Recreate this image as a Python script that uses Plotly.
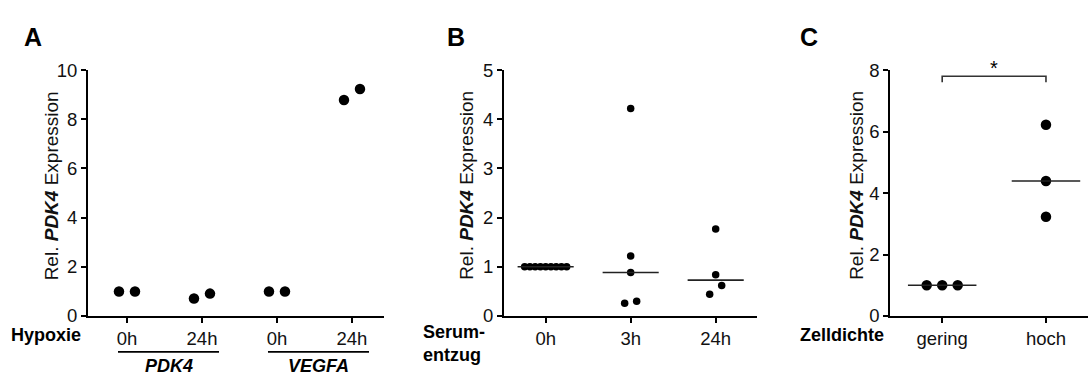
import numpy as np
import plotly.graph_objects as go

# ---------------- data ----------------
# Panel A: hypoxia time course, two replicates per condition
a_labels = ["0h", "24h", "0h", "24h"]
a_pdk4_0h = [1.0, 1.0]
a_pdk4_24h = [0.71, 0.91]
a_vegfa_0h = [1.0, 1.0]
a_vegfa_24h = [8.78, 9.23]
a_groups = ["PDK4", "VEGFA"]

# Panel B: serum starvation
b_labels = ["0h", "3h", "24h"]
b_0h = [1.0, 1.0, 1.0, 1.0, 1.0, 1.0, 1.0, 1.0, 1.0]
b_3h = [4.22, 1.22, 0.885, 0.26, 0.30]
b_24h = [1.77, 0.84, 0.62, 0.44]

# Panel C: cell density
c_labels = ["gering", "hoch"]
c_gering = [1.0, 1.0, 1.0]
c_hoch = [6.22, 4.39, 3.23]

# ---------------- layout geometry (pixels) ----------------
W, H = 1088, 383
Y0_PX, YTOP_PX = 322.7, 62.5          # pixel rows of y=0 and y=max
FONT = "Liberation Sans, Arial, sans-serif"


def px_x(p):
    return p / W


def px_y(p):
    return 1 - p / H


panels = {
    # key: x-domain px, x-range, y-max, y-ticks, dot diameter, swarm step, max swarm width
    "A": dict(dom=(88, 384), xr=(-0.52, 3.427), ymax=10, yt=[0, 2, 4, 6, 8, 10],
              d=10.5, step=16, span=40),
    "B": dict(dom=(504, 757), xr=(-0.49, 2.486), ymax=5, yt=[0, 1, 2, 3, 4, 5],
              d=7.5, step=12, span=42),
    "C": dict(dom=(890.3, 1088), xr=(-0.50, 1.405), ymax=8, yt=[0, 2, 4, 6, 8],
              d=10.5, step=15.5, span=42),
}


def swarm(vals, key):
    """Horizontal offsets (category units) so that close values sit side by side."""
    p = panels[key]
    ypx = (Y0_PX - YTOP_PX) / p["ymax"]
    xpx = (p["dom"][1] - p["dom"][0]) / (p["xr"][1] - p["xr"][0])
    vals = np.asarray(vals, float)
    order = np.argsort(vals, kind="stable")
    clusters, cur = [], [order[0]]
    for i in order[1:]:
        if (vals[i] - vals[cur[-1]]) * ypx <= 1.4 * p["d"]:
            cur.append(i)
        else:
            clusters.append(cur)
            cur = [i]
    clusters.append(cur)
    off = np.zeros(len(vals))
    for cl in clusters:
        n = len(cl)
        if n > 1:
            s = min(p["step"], p["span"] / (n - 1))
            for k, i in enumerate(cl):
                off[i] = (k - (n - 1) / 2) * s / xpx
    return off


fig = go.Figure()

axis_common = dict(showline=True, linewidth=2, linecolor="black", ticks="outside",
                   ticklen=5, tickwidth=2, tickcolor="black", showgrid=False,
                   zeroline=False, tickfont=dict(family=FONT, size=18.5, color="#111"),
                   fixedrange=True)

ydom = [px_y(Y0_PX), px_y(YTOP_PX)]
axis_ids = {"A": ("x", "y", ""), "B": ("x2", "y2", "2"), "C": ("x3", "y3", "3")}
tick_text = {"A": a_labels, "B": b_labels, "C": c_labels}

for key, (xa, ya, sfx) in axis_ids.items():
    p = panels[key]
    fig.layout["xaxis" + sfx] = dict(axis_common, domain=[px_x(p["dom"][0]), px_x(p["dom"][1])],
                                     range=list(p["xr"]), anchor=ya,
                                     tickmode="array", tickvals=list(range(len(tick_text[key]))),
                                     ticktext=tick_text[key])
    fig.layout["yaxis" + sfx] = dict(axis_common, domain=ydom, range=[0, p["ymax"]], anchor=xa,
                                     tickmode="array", tickvals=p["yt"])


def add_points(key, idx, vals, median=False):
    xa, ya, _ = axis_ids[key]
    off = swarm(vals, key)
    fig.add_trace(go.Scatter(x=idx + off, y=vals, mode="markers", xaxis=xa, yaxis=ya,
                             marker=dict(size=panels[key]["d"], color="black", line=dict(width=0)),
                             showlegend=False, hoverinfo="y", cliponaxis=False))
    if median:
        m = float(np.median(vals))
        fig.add_trace(go.Scatter(x=[idx - 0.33, idx + 0.33], y=[m, m], mode="lines",
                                 xaxis=xa, yaxis=ya, line=dict(color="#222", width=1.6),
                                 showlegend=False, hoverinfo="skip"))


for i, v in enumerate([a_pdk4_0h, a_pdk4_24h, a_vegfa_0h, a_vegfa_24h]):
    add_points("A", i, v)
for i, v in enumerate([b_0h, b_3h, b_24h]):
    add_points("B", i, v, median=True)
for i, v in enumerate([c_gering, c_hoch]):
    add_points("C", i, v, median=True)

annotations = []
shapes = []

# panel letters
for letter, cx in [("A", 33), ("B", 456), ("C", 809)]:
    annotations.append(dict(text=f"<b>{letter}</b>", x=px_x(cx), y=px_y(27), xref="paper",
                            yref="paper", showarrow=False, xanchor="center", yanchor="middle",
                            font=dict(family=FONT, size=25, color="black")))

# y-axis titles
for cx in [51.5, 467, 857]:
    annotations.append(dict(text="Rel. <b><i>PDK4</i></b> Expression", x=px_x(cx), y=px_y(185),
                            xref="paper", yref="paper", showarrow=False, textangle=-90,
                            xanchor="center", yanchor="middle",
                            font=dict(family=FONT, size=19, color="#111")))

# row titles left of the x tick labels
annotations.append(dict(text="<b>Hypoxie</b>", x=px_x(83), y=px_y(343), xref="paper",
                        yref="paper", showarrow=False, xanchor="right", yanchor="middle",
                        font=dict(family=FONT, size=18, color="black")))
annotations.append(dict(text="<b>Serum-<br>entzug</b>", x=px_x(421), y=px_y(352), xref="paper",
                        yref="paper", showarrow=False, xanchor="left", yanchor="middle",
                        align="left", font=dict(family=FONT, size=18, color="black")))
annotations.append(dict(text="<b>Zelldichte</b>", x=px_x(886), y=px_y(343), xref="paper",
                        yref="paper", showarrow=False, xanchor="right", yanchor="middle",
                        font=dict(family=FONT, size=18, color="black")))

# gene group lines and names under panel A
for g, name in enumerate(a_groups):
    first, last = 2 * g, 2 * g + 1
    x0, x1 = first - 0.12, last + 0.227
    shapes.append(dict(type="line", xref="x", yref="paper", x0=x0, x1=x1,
                       y0=px_y(360.7), y1=px_y(360.7), line=dict(color="black", width=1.6)))
    annotations.append(dict(text=f"<b><i>{name}</i></b>", x=(x0 + x1) / 2, y=px_y(376),
                            xref="x", yref="paper", showarrow=False, xanchor="center",
                            yanchor="middle", font=dict(family=FONT, size=18, color="black")))

# significance bracket in panel C
bracket_y, bracket_drop = 7.8, 0.2
shapes.append(dict(type="path", xref="x3", yref="y3",
                   path=f"M 0,{bracket_y - bracket_drop} L 0,{bracket_y} L 1,{bracket_y} L 1,{bracket_y - bracket_drop}",
                   line=dict(color="#333", width=1.6)))
annotations.append(dict(text="*", x=0.5, y=bracket_y, xref="x3", yref="y3", showarrow=False,
                        xanchor="center", yanchor="bottom", yshift=-5,
                        font=dict(family=FONT, size=20, color="black")))

fig.update_layout(width=W, height=H, margin=dict(l=0, r=0, t=0, b=0),
                  paper_bgcolor="white", plot_bgcolor="white",
                  annotations=annotations, shapes=shapes, showlegend=False,
                  font=dict(family=FONT, color="black"))

fig.write_html("out.html", config={"displayModeBar": False})
